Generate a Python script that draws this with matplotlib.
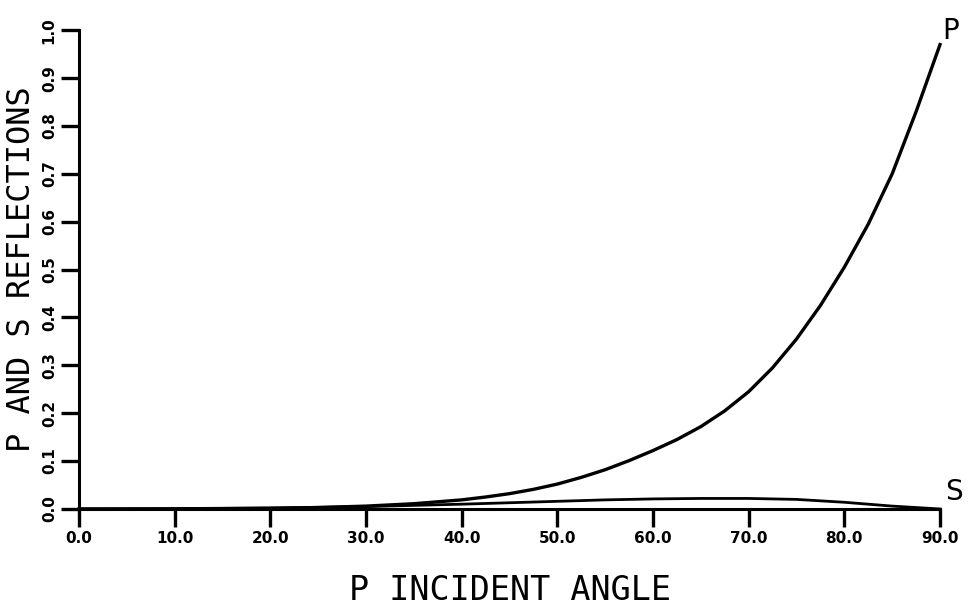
import matplotlib
matplotlib.use("Agg")
import matplotlib.pyplot as plt
import numpy as np

# incident angle (degrees) and reflection coefficients
angle = [0, 10, 20, 25, 30, 35, 40, 42.5, 45, 47.5, 50, 52.5, 55, 57.5, 60, 62.5,
         65, 67.5, 70, 72.5, 75, 77.5, 80, 82.5, 85, 87.5, 90]
p_refl = [0.0, 0.0003, 0.0015, 0.003, 0.006, 0.011, 0.019, 0.025, 0.032, 0.041,
          0.052, 0.066, 0.082, 0.101, 0.122, 0.145, 0.172, 0.205, 0.245, 0.295,
          0.355, 0.425, 0.505, 0.595, 0.700, 0.830, 0.970]
s_refl = [0.0, 0.0005, 0.002, 0.0035, 0.005, 0.0075, 0.010, 0.0115, 0.013, 0.0145,
          0.016, 0.0175, 0.019, 0.020, 0.021, 0.0215, 0.022, 0.022, 0.022, 0.021,
          0.020, 0.017, 0.014, 0.010, 0.006, 0.003, 0.0]

x_ticks = np.arange(0, 91, 10)
y_ticks = np.arange(0, 1.01, 0.1)

fig = plt.figure(figsize=(9.8, 6.13), dpi=100)
ax = fig.add_axes([0.0806, 0.1697, 0.8786, 0.781])

ax.plot(angle, p_refl, color="black", lw=2.4, clip_on=False)
ax.plot(angle, s_refl, color="black", lw=2.0, clip_on=False)

ax.set_xlim(0, 90)
ax.set_ylim(0, 1.0)

for side in ("top", "right"):
    ax.spines[side].set_visible(False)
for side in ("left", "bottom"):
    ax.spines[side].set_linewidth(2.2)

ax.set_xticks(x_ticks)
ax.set_xticklabels([f"{v:.1f}" for v in x_ticks], fontsize=11, fontweight="bold")
ax.set_yticks(y_ticks)
ax.set_yticklabels([f"{v:.1f}" for v in y_ticks], fontsize=11, fontweight="bold",
                   rotation=90, va="center")
ax.tick_params(axis="both", direction="out", length=13, width=2.4, pad=3)

ax.set_xlabel("P INCIDENT ANGLE", fontsize=24, family="DejaVu Sans Mono", labelpad=20)
ax.set_ylabel("P AND S REFLECTIONS", fontsize=23, family="DejaVu Sans Mono")
ax.yaxis.set_label_coords(-0.049, 0.5)

# curve end labels
ax.text(angle[-1] + 0.2, p_refl[-1], "P", fontsize=20, ha="left", va="bottom")
ax.text(angle[-1] + 0.5, s_refl[-1] + 0.006, "S", fontsize=20, ha="left", va="bottom")

fig.savefig("out.png", dpi=100)
